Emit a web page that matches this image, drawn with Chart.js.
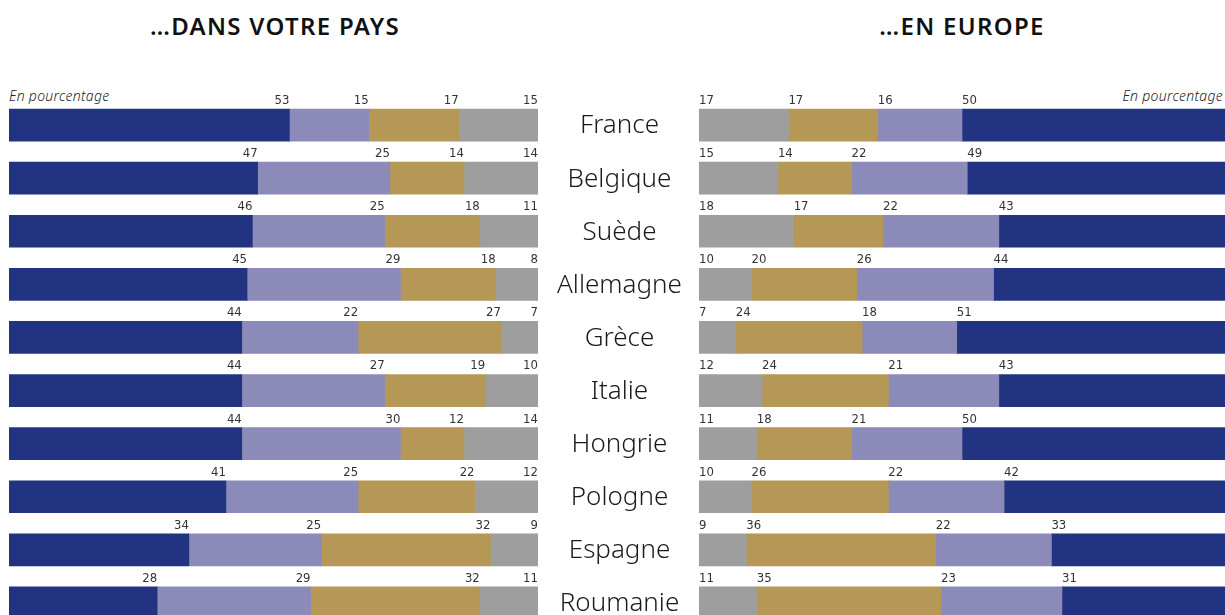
<!DOCTYPE html>
<html>
<head>
<meta charset="utf-8">
<script src="https://cdn.jsdelivr.net/npm/chart.js@4"></script>
<style>
  body { margin: 0; background: #fff; overflow: hidden; width: 1225px; height: 615px; position: relative; font-family: "Noto Sans", Lato, sans-serif; }
  canvas { position: absolute; }
  .title { position: absolute; top: 9px; font-weight: 600; font-size: 24px; color: #111; transform: translateX(-50%); white-space: nowrap; letter-spacing: 1.3px; }
  .note { position: absolute; top: 86px; font-style: italic; font-weight: 300; font-size: 14px; color: #222; letter-spacing: 0.3px; }
</style>
</head>
<body>
<div class="title" style="left:275px">…DANS VOTRE PAYS</div>
<div class="title" style="left:962px">…EN EUROPE</div>
<div class="note" style="left:9px">En pourcentage</div>
<div class="note" style="right:2px">En pourcentage</div>
<canvas id="leftChart" width="529" height="575" style="left:9px;top:60px"></canvas>
<canvas id="rightChart" width="685" height="575" style="left:540px;top:60px"></canvas>
<script>
var countries = ["France","Belgique","Suède","Allemagne","Grèce","Italie","Hongrie","Pologne","Espagne","Roumanie"];

// ...dans votre pays (left panel, left to right)
var paysNavy     = [53,47,46,45,44,44,44,41,34,28];
var paysLavender = [15,25,25,29,22,27,30,25,25,29];
var paysGold     = [17,14,18,18,27,19,12,22,32,32];
var paysGrey     = [15,14,11, 8, 7,10,14,12, 9,11];

// ...en Europe (right panel, left to right)
var europeGrey     = [17,15,18,10, 7,12,11,10, 9,11];
var europeGold     = [17,14,17,20,24,24,18,26,36,35];
var europeLavender = [16,22,22,26,18,21,21,22,22,23];
var europeNavy     = [50,49,43,44,51,43,50,42,33,31];

var NAVY = '#223381', LAVENDER = '#8b8ab8', GOLD = '#b59855', GREY = '#9d9e9d';

function ds(data, color) {
  return { data: data, backgroundColor: color, barThickness: 32, borderWidth: 0 };
}

function valueLabels(side) {
  return {
    id: 'valueLabels',
    afterDatasetsDraw: function(chart) {
      var ctx = chart.ctx;
      ctx.save();
      ctx.font = '13px "Liberation Sans Narrow", "DejaVu Sans Condensed", sans-serif';
      ctx.fillStyle = '#333';
      ctx.textBaseline = 'bottom';
      chart.data.datasets.forEach(function(d, di) {
        chart.getDatasetMeta(di).data.forEach(function(bar, i) {
          var top = bar.y - bar.height / 2 - 2;
          if (side == 'left') {
            ctx.textAlign = 'right';
            ctx.fillText(d.data[i], bar.x, top);
          } else {
            ctx.textAlign = 'left';
            ctx.fillText(d.data[i], bar.base, top);
          }
        });
      });
      ctx.restore();
    }
  };
}

// country names in the gap left of the right panel, on the y scale
var countryLabels = {
  id: 'countryLabels',
  afterDraw: function(chart) {
    var ctx = chart.ctx;
    var y = chart.scales.y;
    ctx.save();
    ctx.font = '300 26px "Noto Sans", Lato, sans-serif';
    ctx.fillStyle = '#1a1a1a';
    ctx.textAlign = 'center';
    ctx.textBaseline = 'middle';
    countries.forEach(function(c, i) {
      ctx.fillText(c, chart.chartArea.left - 79.5, y.getPixelForValue(i) + 1);
    });
    ctx.restore();
  }
};

Chart.defaults.animation = false;

var leftChart = new Chart(document.getElementById('leftChart').getContext('2d'), {
  type: 'bar',
  data: {
    labels: countries,
    datasets: [ds(paysNavy, NAVY), ds(paysLavender, LAVENDER), ds(paysGold, GOLD), ds(paysGrey, GREY)]
  },
  options: {
    indexAxis: 'y',
    responsive: false,
    layout: { padding: { top: 38.5, bottom: 5.5 } },
    plugins: { legend: { display: false }, tooltip: { enabled: false } },
    scales: {
      x: { stacked: true, min: 0, max: 100, display: false },
      y: { stacked: true, display: false }
    }
  },
  plugins: [valueLabels('left')]
});

var rightChart = new Chart(document.getElementById('rightChart').getContext('2d'), {
  type: 'bar',
  data: {
    labels: countries,
    datasets: [ds(europeGrey, GREY), ds(europeGold, GOLD), ds(europeLavender, LAVENDER), ds(europeNavy, NAVY)]
  },
  options: {
    indexAxis: 'y',
    responsive: false,
    layout: { padding: { top: 38.5, bottom: 5.5, left: 159 } },
    plugins: { legend: { display: false }, tooltip: { enabled: false } },
    scales: {
      x: { stacked: true, min: 0, max: 100, display: false },
      y: { stacked: true, display: false }
    }
  },
  plugins: [valueLabels('right'), countryLabels]
});
</script>
</body>
</html>
